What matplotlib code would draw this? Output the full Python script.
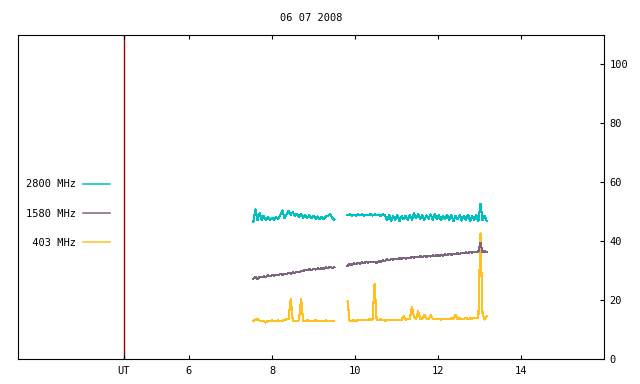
import matplotlib
matplotlib.use("Agg")
import matplotlib.pyplot as plt
import numpy as np

TITLE = "06 07 2008"
UT_MARK = 4.434
XTICKS = [UT_MARK, 6, 8, 10, 12, 14]
XTICK_LABELS = ["UT", "6", "8", "10", "12", "14"]
YTICKS = [0, 20, 40, 60, 80, 100]

# two observing runs, sampled every 0.05 h
T_RUN1 = np.round(np.arange(7.55, 9.5001, 0.05), 3)
T_RUN2 = np.round(np.arange(9.82, 13.1701, 0.05), 3)

F2800_RUN1 = [
    46.4, 50.8, 47.2, 49.5, 47.3, 48.6, 47.2, 48.2, 47.1, 48.0,
    47.3, 48.1, 47.6, 48.9, 50.4, 47.9, 49.0, 50.3, 49.0, 49.9,
    48.5, 49.3, 48.2, 49.1, 48.0, 48.9, 47.9, 48.8, 47.8, 48.7,
    47.6, 48.4, 47.5, 48.3, 47.4, 48.4, 48.6, 49.3, 48.0, 47.3,
]
F2800_RUN2 = [
    48.8, 49.1, 48.7, 49.0, 48.6, 49.1, 48.8, 49.2, 48.7, 49.0,
    48.9, 49.2, 48.7, 49.1, 48.8, 49.0, 48.6, 49.1, 48.8, 47.2,
    48.9, 47.0, 48.6, 47.3, 48.8, 46.9, 48.5, 47.4, 48.7, 47.1,
    48.9, 47.3, 49.4, 47.8, 49.2, 47.5, 48.9, 47.2, 48.8, 47.6,
    49.1, 47.3, 49.3, 47.4, 48.9, 47.1, 48.7, 47.5, 49.0, 47.2,
    48.8, 46.8, 48.6, 47.4, 48.9, 47.0, 48.7, 47.3, 49.0, 46.9,
    48.6, 47.2, 48.8, 46.7, 52.7, 47.1, 48.6, 46.8,
]

F1580_RUN1 = [
    27.3, 27.8, 27.2, 27.9, 27.7, 28.1, 27.9, 28.4, 28.1, 28.5,
    28.3, 28.6, 28.4, 28.9, 28.6, 28.9, 28.8, 29.3, 29.0, 29.4,
    29.2, 29.6, 29.4, 29.8, 29.9, 30.3, 30.1, 30.5, 30.2, 30.6,
    30.4, 30.8, 30.5, 30.9, 30.6, 31.1, 30.8, 31.3, 30.9, 31.2,
]
F1580_RUN2 = [
    31.6, 32.3, 32.0, 32.5, 32.2, 32.7, 32.4, 32.8, 32.6, 33.0,
    32.7, 33.1, 32.8, 33.0, 32.7, 33.2, 33.0, 33.5, 33.3, 33.8,
    33.6, 33.9, 33.7, 34.1, 33.8, 34.2, 34.0, 34.4, 34.1, 34.3,
    34.2, 34.6, 34.4, 34.7, 34.5, 34.9, 34.6, 34.9, 34.7, 35.1,
    34.8, 35.2, 34.9, 35.3, 35.0, 35.3, 35.1, 35.5, 35.3, 35.7,
    35.4, 35.8, 35.6, 35.9, 35.7, 36.1, 35.9, 36.2, 36.0, 36.3,
    36.1, 36.4, 36.2, 36.5, 39.4, 36.3, 36.6, 36.4,
]

F403_RUN1 = [
    12.9, 13.4, 13.5, 13.1, 12.8, 13.0, 12.4, 13.0, 12.9, 13.1,
    12.9, 13.0, 13.1, 12.9, 13.0, 13.2, 13.5, 13.6, 20.4, 13.1,
    12.9, 13.0, 13.1, 20.4, 13.0, 12.9, 13.1, 13.0, 12.9, 13.0,
    13.1, 12.9, 13.0, 13.0, 12.9, 13.1, 13.0, 12.9, 13.0, 12.9,
]
F403_RUN2 = [
    19.5, 12.9, 13.0, 13.1, 12.9, 13.2, 13.3, 13.1, 13.4, 13.3,
    13.4, 13.5, 13.3, 25.5, 13.4, 13.2, 13.5, 13.3, 13.1, 13.4,
    13.3, 13.2, 13.4, 13.3, 13.2, 13.1, 13.3, 14.6, 13.4, 13.5,
    13.6, 17.8, 14.2, 13.7, 16.3, 13.6, 13.8, 15.0, 13.7, 13.5,
    14.9, 13.6, 13.5, 13.7, 13.6, 13.4, 13.6, 13.7, 13.5, 13.6,
    13.8, 13.7, 15.0, 13.6, 13.8, 13.5, 13.7, 13.9, 13.6, 13.8,
    13.7, 14.0, 13.8, 13.9, 42.7, 15.5, 13.4, 14.5,
]

SERIES = [
    ("2800 MHz", "#00C0C0", F2800_RUN1, F2800_RUN2, 3),
    ("1580 MHz", "#7F6383", F1580_RUN1, F1580_RUN2, 4),
    (" 403 MHz", "#FFC020", F403_RUN1, F403_RUN2, 2),
]

plt.rcParams["font.family"] = "DejaVu Sans Mono"
plt.rcParams["font.size"] = 7.5

fig, ax = plt.subplots(figsize=(6.4, 3.84), dpi=100)
fig.subplots_adjust(left=0.028, right=0.944, top=0.909, bottom=0.065)

for label, color, run1, run2, z in SERIES:
    ax.plot(T_RUN1, run1, color=color, lw=0.8, label=label, zorder=z, antialiased=False)
    ax.plot(T_RUN2, run2, color=color, lw=0.8, zorder=z, antialiased=False)

ax.axvline(UT_MARK, color="#990000", lw=1.0, zorder=1)

ax.set_xlim(1.88, 16.0)
ax.set_ylim(0, 110)
ax.set_xticks(XTICKS)
ax.set_xticklabels(XTICK_LABELS)
ax.set_yticks(YTICKS)
ax.yaxis.tick_right()
ax.tick_params(axis="x", direction="in", length=3, width=0.8, top=True, pad=5)
ax.tick_params(axis="y", direction="in", length=3, width=0.8, left=False, right=True, pad=4)
for sp in ax.spines.values():
    sp.set_linewidth(0.8)

ax.set_title(TITLE, pad=10, fontsize=7.5)

leg = ax.legend(loc="upper left", bbox_to_anchor=(0.0, 0.58), frameon=False,
                markerfirst=False, handlelength=2.6, handletextpad=0.6,
                labelspacing=1.85, borderpad=0.3, fontsize=7.5)
for line in leg.get_lines():
    line.set_antialiased(True)
    line.set_linewidth(1.1)

fig.savefig("out.png", dpi=100)
